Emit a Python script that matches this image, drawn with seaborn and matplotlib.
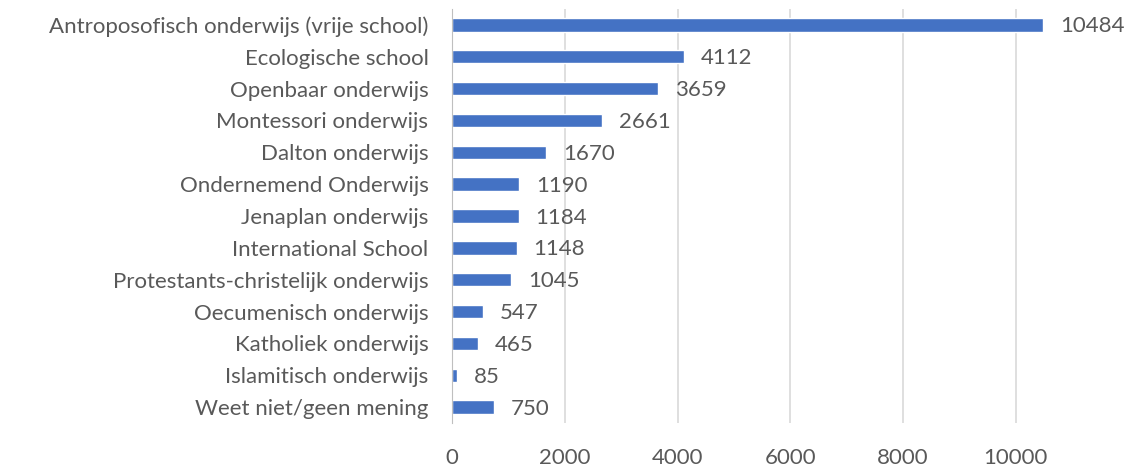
import matplotlib
matplotlib.use('Agg')
import matplotlib.pyplot as plt
import seaborn as sns
import pandas as pd

# Data
categories = [
    'Antroposofisch onderwijs (vrije school)',
    'Ecologische school',
    'Openbaar onderwijs',
    'Montessori onderwijs',
    'Dalton onderwijs',
    'Ondernemend Onderwijs',
    'Jenaplan onderwijs',
    'International School',
    'Protestants-christelijk onderwijs',
    'Oecumenisch onderwijs',
    'Katholiek onderwijs',
    'Islamitisch onderwijs',
    'Weet niet/geen mening',
]
values = [10484, 4112, 3659, 2661, 1670, 1190, 1184, 1148, 1045, 547, 465, 85, 750]
x_ticks = [0, 2000, 4000, 6000, 8000, 10000]

df = pd.DataFrame({'Categorie': categories, 'Aantal': values})

sns.set_style('white')
plt.rcParams['font.family'] = ['Lato', 'DejaVu Sans']
text_color = '#595959'

fig = plt.figure(figsize=(11.28, 4.7), dpi=100)
ax = fig.add_axes([0.4007, 0.1, 0.5893, 0.881])

sns.barplot(x='Aantal', y='Categorie', data=df, color='#4472C4',
            width=0.42, saturation=1, ax=ax, zorder=3)

for i, v in enumerate(values):
    ax.text(v + 300, i + 0.05, str(v), va='center', ha='left',
            fontsize=16, color=text_color)

ax.set_xlim(0, 11790)
ax.set_xticks(x_ticks)
ax.set_xticklabels([str(t) for t in x_ticks], fontsize=16, color=text_color)
ax.tick_params(axis='y', labelsize=16, labelcolor=text_color, length=0, pad=17)
ax.tick_params(axis='x', length=0, pad=18)
ax.set_xlabel('')
ax.set_ylabel('')
ax.xaxis.grid(True, color='#D9D9D9', linewidth=1.2, zorder=0)

for side in ['top', 'right', 'bottom']:
    ax.spines[side].set_visible(False)
ax.spines['left'].set_color('#BFBFBF')
ax.spines['left'].set_zorder(4)

fig.savefig('out.png', dpi=100)
